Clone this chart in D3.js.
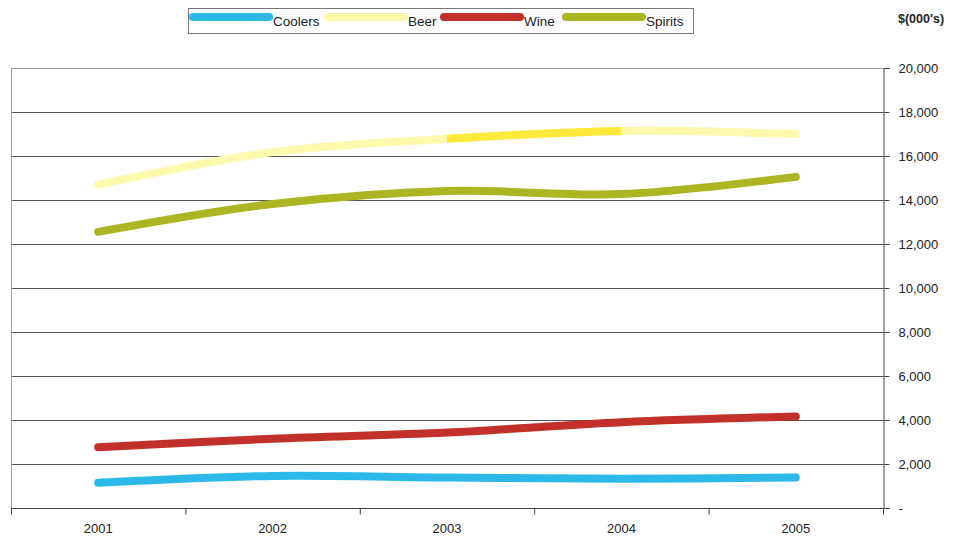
<!DOCTYPE html>
<html>
<head>
<meta charset="utf-8">
<script src="https://cdn.jsdelivr.net/npm/d3@7/dist/d3.min.js"></script>
<style>
  html, body { margin: 0; padding: 0; background: #fff; }
  svg { display: block; font-family: "Liberation Sans", Arial, sans-serif; }
</style>
</head>
<body>
<svg id="chart" width="959" height="538"></svg>
<script>
// Sales by product line, $(000's)
const years = ["2001", "2002", "2003", "2004", "2005"];
const coolers = [1150, 1460, 1385, 1325, 1390];
const beer = [14700, 16180, 16780, 17140, 17000];
const wine = [2760, 3150, 3430, 3900, 4160];
const spirits = [12550, 13820, 14410, 14270, 15050];
const seriesNames = ["Coolers", "Beer", "Wine", "Spirits"];
const seriesColors = ["#2cb9ea", "#fdfaae", "#c1302a", "#abb622"];
const beerHighlight = ["2003", "2004"];
const beerHighlightColor = "#fde83c";
const yTicks = [0, 2000, 4000, 6000, 8000, 10000, 12000, 14000, 16000, 18000, 20000];
const unitLabel = "$(000's)";

const seriesValues = [coolers, beer, wine, spirits];
const svg = d3.select("#chart");

const plot = { left: 11, right: 883, top: 68, bottom: 508 };

const x = d3.scaleBand().domain(years).range([plot.left, plot.right]);
const y = d3.scaleLinear().domain([0, 20000]).range([plot.bottom, plot.top]);
const cx = d => x(d) + x.bandwidth() / 2;

// horizontal gridlines
svg.append("g")
  .selectAll("line")
  .data(yTicks.filter(t => t > 0))
  .join("line")
  .attr("x1", plot.left).attr("x2", plot.right)
  .attr("y1", d => y(d) + 0.5).attr("y2", d => y(d) + 0.5)
  .attr("stroke", d => d === 20000 ? "#999" : "#555")
  .attr("stroke-width", 1);

// left frame edge
svg.append("line")
  .attr("x1", plot.left + 0.5).attr("x2", plot.left + 0.5)
  .attr("y1", plot.top).attr("y2", plot.bottom)
  .attr("stroke", "#999");

// right value axis
const yAxis = d3.axisRight(y)
  .tickValues(yTicks)
  .tickSize(6)
  .tickPadding(9)
  .tickFormat(d => d === 0 ? "-" : d3.format(",")(d));
const ya = svg.append("g")
  .attr("transform", `translate(${plot.right + 0.5},0)`)
  .call(yAxis);
ya.select(".domain").attr("stroke", "#444");
ya.selectAll(".tick line").attr("stroke", "#444");
ya.selectAll(".tick text")
  .attr("font-size", 13)
  .attr("fill", "#222")
  .attr("font-family", "'Liberation Sans', Arial, sans-serif");

// bottom category axis with ticks between categories
const xg = svg.append("g").attr("transform", `translate(0,${plot.bottom + 0.5})`);
xg.append("line")
  .attr("x1", plot.left).attr("x2", plot.right)
  .attr("stroke", "#444");
const bounds = years.map(d => x(d)).concat([plot.right]);
xg.selectAll("line.tick")
  .data(bounds)
  .join("line")
  .attr("class", "tick")
  .attr("x1", d => d + 0.5).attr("x2", d => d + 0.5)
  .attr("y1", 0).attr("y2", 6)
  .attr("stroke", "#444");
xg.selectAll("text")
  .data(years)
  .join("text")
  .attr("x", d => cx(d))
  .attr("y", 24)
  .attr("text-anchor", "middle")
  .attr("font-size", 13)
  .attr("fill", "#222")
  .text(d => d);

// unit label
svg.append("text")
  .attr("x", 898).attr("y", 23)
  .attr("font-size", 12.5)
  .attr("font-weight", "bold")
  .attr("fill", "#222")
  .text(unitLabel);

// series lines
const line = d3.line()
  .x((d, i) => cx(years[i]))
  .y(d => y(d))
  .curve(d3.curveCatmullRom.alpha(0.5));

const lines = svg.append("g");
seriesValues.forEach((vals, k) => {
  lines.append("path")
    .attr("d", line(vals))
    .attr("fill", "none")
    .attr("stroke", seriesColors[k])
    .attr("stroke-width", 8)
    .attr("stroke-linecap", "round")
    .attr("stroke-linejoin", "round");
});

// highlighted stretch of the beer line
svg.append("clipPath").attr("id", "beerClip")
  .append("rect")
  .attr("x", cx(beerHighlight[0]))
  .attr("width", cx(beerHighlight[1]) - cx(beerHighlight[0]))
  .attr("y", plot.top).attr("height", plot.bottom - plot.top);
lines.append("path")
  .attr("d", line(beer))
  .attr("fill", "none")
  .attr("stroke", beerHighlightColor)
  .attr("stroke-width", 8)
  .attr("clip-path", "url(#beerClip)");

// legend
const lg = svg.append("g");
lg.append("rect")
  .attr("x", 188.5).attr("y", 8.5)
  .attr("width", 505).attr("height", 25)
  .attr("fill", "#fff")
  .attr("stroke", "#777");
const legendX = [193, 328, 444, 566];
const legendTextX = [273, 408, 524, 646];
seriesNames.forEach((name, k) => {
  lg.append("line")
    .attr("x1", legendX[k]).attr("x2", legendX[k] + 76)
    .attr("y1", 17).attr("y2", 17)
    .attr("stroke", seriesColors[k])
    .attr("stroke-width", 8)
    .attr("stroke-linecap", "round");
  lg.append("text")
    .attr("x", legendTextX[k]).attr("y", 26)
    .attr("font-size", 13.5)
    .attr("fill", "#222")
    .text(name);
});
</script>
</body>
</html>
